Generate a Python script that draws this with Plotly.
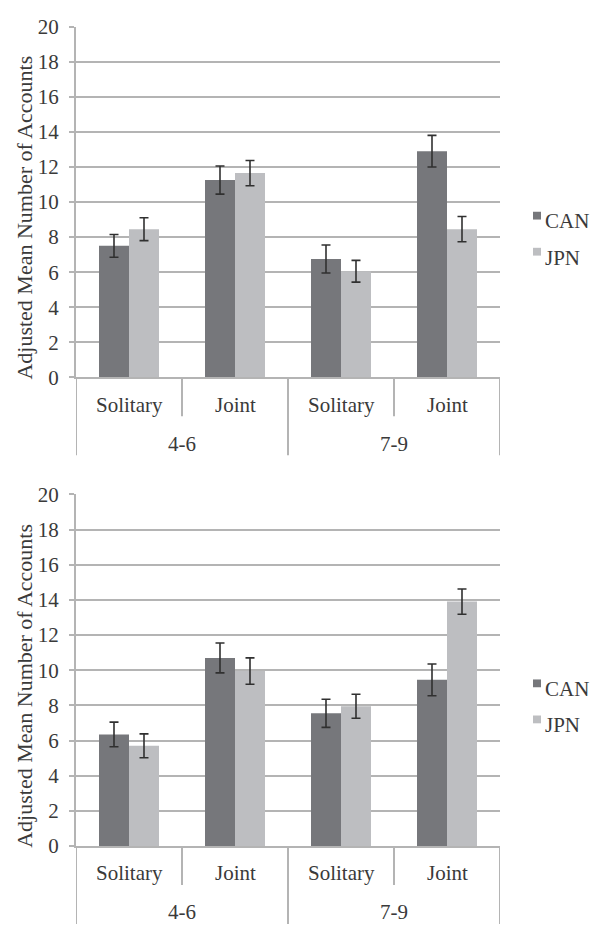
import plotly.graph_objects as go

# Data
age_groups = ["4-6", "4-6", "7-9", "7-9"]
conditions = ["Solitary", "Joint", "Solitary", "Joint"]
series_names = ["CAN", "JPN"]

can_top = [7.5, 11.25, 6.75, 12.9]
can_top_err = [0.65, 0.8, 0.8, 0.9]
jpn_top = [8.45, 11.65, 6.05, 8.45]
jpn_top_err = [0.65, 0.72, 0.62, 0.72]

can_bottom = [6.35, 10.7, 7.55, 9.45]
can_bottom_err = [0.7, 0.85, 0.8, 0.9]
jpn_bottom = [5.7, 9.95, 7.95, 13.9]
jpn_bottom_err = [0.68, 0.75, 0.68, 0.72]

y_ticks = [0, 2, 4, 6, 8, 10, 12, 14, 16, 18, 20]
y_title = "Adjusted Mean Number of Accounts"

W, H = 592, 937
COLORS = {"CAN": "#76777b", "JPN": "#bdbec1"}
LINE = "#b4b4b4"
TEXT = "#3a3a3a"
FONT = "Liberation Serif, Times New Roman, serif"

cats = [f"{g} {c}" for g, c in zip(age_groups, conditions)]


def py(px):
    """pixel row -> paper y"""
    return (H - px) / H


def px_x(px):
    return px / W


panels = [
    # (values, errors, plot top px, plot bottom px, axis suffix)
    ((can_top, jpn_top), (can_top_err, jpn_top_err), 15, 375, ""),
    ((can_bottom, jpn_bottom), (can_bottom_err, jpn_bottom_err), 495, 856, "2"),
]

fig = go.Figure()
shapes = []
annotations = []
x_left, x_right = 76, 500

for (vals, errs, top, bot, sfx) in panels:
    for name, v, e in zip(series_names, vals, errs):
        fig.add_trace(go.Bar(
            x=cats, y=v, name=name,
            marker=dict(color=COLORS[name], line=dict(width=0)),
            error_y=dict(type="data", array=e, color="#303030", thickness=1.6, width=4.5),
            xaxis="x" + sfx, yaxis="y" + sfx, showlegend=False,
        ))
    dom_y = [py(bot), py(top)]
    fig.update_layout(**{
        "xaxis" + sfx: dict(
            domain=[px_x(x_left), px_x(x_right)], type="category",
            categoryorder="array", categoryarray=cats, range=[-0.5, 3.5],
            showticklabels=False, ticks="", showgrid=False, zeroline=False,
            showline=True, linecolor=LINE, linewidth=2,
            anchor="y" + sfx, fixedrange=True,
        ),
        "yaxis" + sfx: dict(
            domain=dom_y, range=[0, 20], tickvals=y_ticks,
            showgrid=True, gridcolor=LINE, gridwidth=2, zeroline=False,
            showline=True, linecolor=LINE, linewidth=2,
            ticks="outside", ticklen=5, tickcolor=LINE, tickwidth=2,
            ticklabelstandoff=6,
            tickfont=dict(family=FONT, size=21, color=TEXT),
            anchor="x" + sfx, fixedrange=True,
        ),
    })
    xref = "x" + sfx
    # category divider lines below the axis
    for i in range(5):
        long_line = i in (0, 2, 4)
        y_end = bot + (80 if long_line else 40)
        shapes.append(dict(type="line", xref=xref, yref="paper",
                           x0=i - 0.5, x1=i - 0.5, y0=py(bot), y1=py(min(y_end, H)),
                           line=dict(color=LINE, width=2)))
    # condition labels
    for c, lab in zip(cats, conditions):
        annotations.append(dict(x=c, xref=xref, y=py(bot + 28), yref="paper",
                                text=lab, showarrow=False, yanchor="middle",
                                font=dict(family=FONT, size=21, color=TEXT)))
    # age group labels
    for gi, g in enumerate(["4-6", "7-9"]):
        annotations.append(dict(x=gi * 2 + 0.5, xref=xref, y=py(bot + 68), yref="paper",
                                text=g, showarrow=False, yanchor="middle",
                                font=dict(family=FONT, size=21, color=TEXT)))
    # y-axis title
    annotations.append(dict(x=px_x(25), xref="paper", y=py((top + bot) / 2 + 16), yref="paper",
                            text=y_title, textangle=-90, showarrow=False,
                            xanchor="center", yanchor="middle",
                            font=dict(family=FONT, size=22, color=TEXT)))
    # legend
    leg_y0 = top + 199
    for k, name in enumerate(series_names):
        ly = leg_y0 + k * 37
        shapes.append(dict(type="rect", xref="paper", yref="paper",
                           x0=px_x(533), x1=px_x(541), y0=py(ly - 1), y1=py(ly - 9),
                           fillcolor=COLORS[name], line=dict(width=0)))
        annotations.append(dict(x=px_x(543), xref="paper", y=py(ly + 1), yref="paper",
                                text=name, showarrow=False, xanchor="left", yanchor="middle",
                                font=dict(family=FONT, size=21, color=TEXT)))

fig.update_layout(
    width=W, height=H,
    margin=dict(l=0, r=0, t=0, b=0),
    paper_bgcolor="white", plot_bgcolor="white",
    font=dict(family=FONT, color=TEXT),
    barmode="group", bargap=0.434, bargroupgap=0,
    shapes=shapes, annotations=annotations,
    showlegend=False,
)

fig.write_html("out.html")
